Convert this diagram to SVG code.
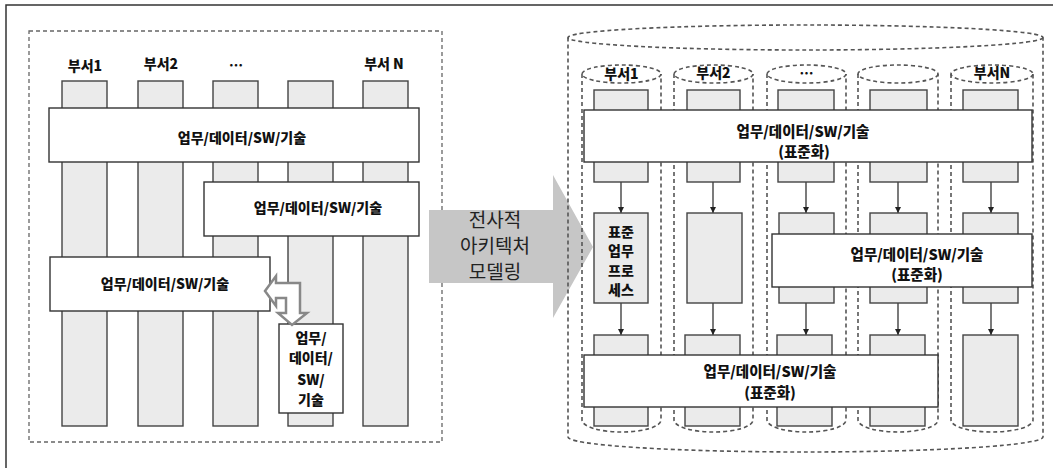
<svg xmlns="http://www.w3.org/2000/svg" width="1053" height="468" viewBox="0 0 1053 468">
<defs>
<style>
.frame{fill:none;stroke:#333;stroke-width:1.5}
.dash{fill:none;stroke:#666;stroke-width:1.3;stroke-dasharray:4 3}
.dashr{fill:none;stroke:#555;stroke-width:1.6;stroke-dasharray:4 3}
.col{fill:#ebebeb;stroke:#444;stroke-width:1.4}
.bar{fill:#fff;stroke:#333;stroke-width:1.4}
.t{font-family:"Noto Sans CJK KR","Noto Sans",sans-serif;font-weight:900;font-size:14px;fill:#111;text-anchor:middle}
.tr{font-family:"Noto Sans CJK KR","Noto Sans",sans-serif;font-weight:900;font-size:14.5px;fill:#111;text-anchor:middle}
.ta{font-family:"Noto Sans CJK KR","Noto Sans",sans-serif;font-size:19px;fill:#222;text-anchor:middle}
.cn{stroke:#222;stroke-width:1.2;fill:none}
</style>
<marker id="ah" viewBox="0 0 10 10" refX="10" refY="5" markerWidth="6" markerHeight="6" orient="auto" markerUnits="userSpaceOnUse">
<path d="M0,0 L10,5 L0,10 z" fill="#222"/>
</marker>
</defs>
<rect width="1053" height="468" fill="#fff"/>
<path class="frame" d="M6,475 V5 H1060"/>

<g id="left-panel">
<rect class="dash" x="29" y="31" width="413" height="411"/>
<text class="t" x="85" y="71">부서1</text>
<text class="t" x="161" y="69">부서2</text>
<text class="t" x="236" y="70">…</text>
<text class="t" x="384" y="69">부서 N</text>
<rect class="col" x="62" y="81" width="45" height="345"/>
<rect class="col" x="138" y="81" width="45" height="345"/>
<rect class="col" x="213" y="81" width="45" height="345"/>
<rect class="col" x="288" y="81" width="45" height="345"/>
<rect class="col" x="363" y="81" width="45" height="345"/>
</g>
<g id="bar-l1">
<rect class="bar" x="49" y="108" width="370" height="54"/>
<text class="t" x="242" y="143">업무/데이터/SW/기술</text>
</g>
<g id="bar-l2">
<rect class="bar" x="204" y="182" width="215" height="54"/>
<text class="t" x="318" y="213">업무/데이터/SW/기술</text>
</g>
<g id="bar-l3">
<rect class="bar" x="50" y="257" width="220" height="54"/>
<text class="t" x="165" y="289">업무/데이터/SW/기술</text>
</g>
<g id="box-l4">
<rect class="bar" x="279" y="324" width="64" height="89"/>
<text class="t" x="311" y="343">업무/</text>
<text class="t" x="311" y="363">데이터/</text>
<text class="t" x="311" y="385">SW/</text>
<text class="t" x="311" y="405">기술</text>
</g>
<g id="connectors">
<path d="M265,291 L276,276 L276,283 L300,283 L300,313 L307,313 L292,325 L278,313 L286,313 L286,298 L276,298 L276,306 Z" fill="#fff" stroke="#888" stroke-width="2.5" stroke-linejoin="miter"/>
<line class="cn" x1="621" y1="182" x2="621" y2="213" marker-end="url(#ah)"/>
<line class="cn" x1="713" y1="182" x2="713" y2="213" marker-end="url(#ah)"/>
<line class="cn" x1="806" y1="182" x2="806" y2="213" marker-end="url(#ah)"/>
<line class="cn" x1="898" y1="182" x2="898" y2="213" marker-end="url(#ah)"/>
<line class="cn" x1="991" y1="182" x2="991" y2="213" marker-end="url(#ah)"/>
<line class="cn" x1="621" y1="303" x2="621" y2="335" marker-end="url(#ah)"/>
<line class="cn" x1="713" y1="303" x2="713" y2="335" marker-end="url(#ah)"/>
<line class="cn" x1="806" y1="303" x2="806" y2="335" marker-end="url(#ah)"/>
<line class="cn" x1="898" y1="303" x2="898" y2="335" marker-end="url(#ah)"/>
<line class="cn" x1="991" y1="303" x2="991" y2="335" marker-end="url(#ah)"/>
</g>
<g id="transform-arrow">
<polygon points="429,210 553,210 553,175 593,247 553,318 553,283 429,283" fill="#c6c6c6"/>
<text class="ta" x="495" y="227">전사적</text>
<text class="ta" x="495" y="253">아키텍처</text>
<text class="ta" x="495" y="279">모델링</text>
</g>
<g id="right-panel">
<ellipse class="dashr" cx="805.5" cy="37.5" rx="237.5" ry="12.5"/>
<path class="dashr" d="M568,37.5 V437 A237.5,15 0 0 0 1043,437 V37.5"/>
<g id="cyl1">
<ellipse class="dashr" cx="621.5" cy="74" rx="39.5" ry="9"/>
<path class="dashr" d="M582,74 V420 A39.5,12 0 0 0 661,420 V74"/>
<text class="t" x="621.5" y="79">부서1</text>
</g>
<g id="cyl2">
<ellipse class="dashr" cx="713.5" cy="74" rx="39.5" ry="9"/>
<path class="dashr" d="M674,74 V420 A39.5,12 0 0 0 753,420 V74"/>
<text class="t" x="713.5" y="78">부서2</text>
</g>
<g id="cyl3">
<ellipse class="dashr" cx="806.5" cy="74" rx="39.5" ry="9"/>
<path class="dashr" d="M767,74 V420 A39.5,12 0 0 0 846,420 V74"/>
<text class="t" x="806.5" y="78">…</text>
</g>
<g id="cyl4">
<ellipse class="dashr" cx="898" cy="74" rx="40" ry="9"/>
<path class="dashr" d="M858,74 V420 A40,12 0 0 0 938,420 V74"/>
</g>
<g id="cyl5">
<ellipse class="dashr" cx="992" cy="74" rx="41" ry="9"/>
<path class="dashr" d="M951,74 V420 A41,12 0 0 0 1033,420 V74"/>
<text class="t" x="992" y="78">부서N</text>
</g>
<rect class="col" x="594" y="90" width="54" height="92"/>
<rect class="col" x="687" y="90" width="53" height="92"/>
<rect class="col" x="778" y="90" width="56" height="92"/>
<rect class="col" x="870" y="90" width="57" height="92"/>
<rect class="col" x="963" y="90" width="55" height="92"/>
<rect class="col" x="594" y="213" width="54" height="90"/>
<rect class="col" x="687" y="213" width="55" height="90"/>
<rect class="col" x="779" y="213" width="55" height="90"/>
<rect class="col" x="870" y="213" width="57" height="90"/>
<rect class="col" x="963" y="213" width="55" height="90"/>
<rect class="col" x="594" y="335" width="54" height="91"/>
<rect class="col" x="685" y="335" width="55" height="91"/>
<rect class="col" x="777" y="335" width="55" height="91"/>
<rect class="col" x="870" y="335" width="55" height="91"/>
<rect class="col" x="963" y="335" width="55" height="91"/>
</g>
<g id="proc-box">
<text class="t" x="621" y="237">표준</text>
<text class="t" x="621" y="256">업무</text>
<text class="t" x="621" y="276">프로</text>
<text class="t" x="621" y="295">세스</text>
</g>
<g id="bar-r1">
<rect class="bar" x="584" y="110" width="448" height="52"/>
<text class="tr" x="803" y="137">업무/데이터/SW/기술</text>
<text class="tr" x="804" y="157">(표준화)</text>
</g>
<g id="bar-r2">
<rect class="bar" x="772" y="234" width="260" height="53"/>
<text class="tr" x="917" y="260">업무/데이터/SW/기술</text>
<text class="tr" x="917" y="280">(표준화)</text>
</g>
<g id="bar-r3">
<rect class="bar" x="584" y="355" width="354" height="52"/>
<text class="tr" x="770" y="377">업무/데이터/SW/기술</text>
<text class="tr" x="770" y="398">(표준화)</text>
</g>
</svg>
